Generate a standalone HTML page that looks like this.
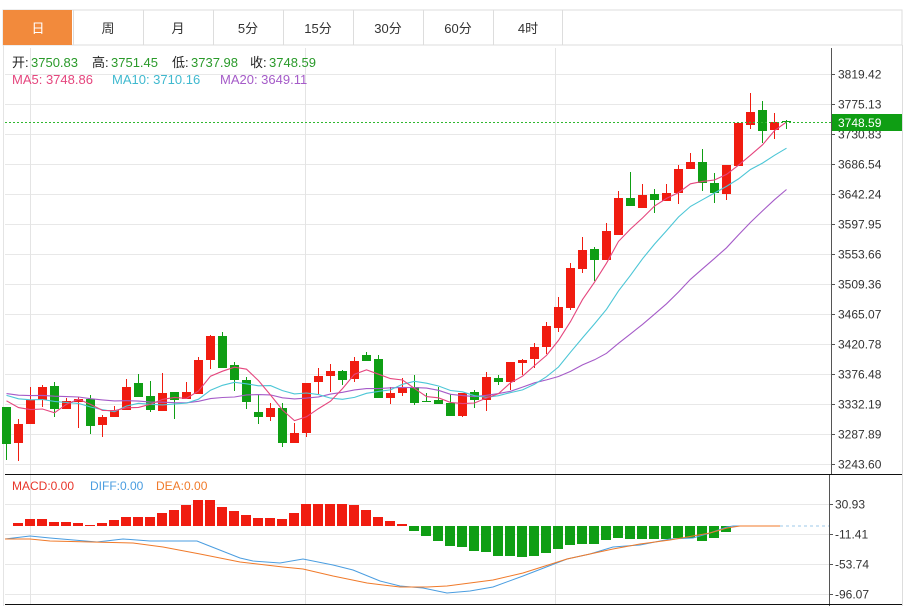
<!DOCTYPE html>
<html><head><meta charset="utf-8"><style>
body{margin:0;background:#fff;width:910px;height:606px;overflow:hidden;font-family:"Liberation Sans","Noto Sans CJK SC",sans-serif}
svg{position:absolute;left:0;top:0}
</style></head><body>
<svg id="s" width="910" height="606" xmlns="http://www.w3.org/2000/svg" font-family="Liberation Sans, Noto Sans CJK SC, sans-serif"></svg>
<script>
var s=document.getElementById('s'),h='';
// tabs
h+='<rect x="3" y="10" width="899" height="35" fill="#fff" stroke="#ddd"/>';
h+='<rect x="3" y="10" width="69" height="35" fill="#f28a3c"/>';
var tabs=['日','周','月','5分','15分','30分','60分','4时'];
for(var i=0;i<8;i++){var x0=3+i*70;if(i>0)h+='<line x1="'+(x0+0.5)+'" y1="10" x2="'+(x0+0.5)+'" y2="45" stroke="#ddd"/>';
h+='<text x="'+(x0+35)+'" y="33" text-anchor="middle" font-size="13" fill="'+(i==0?'#fff':'#333')+'">'+tabs[i]+'</text>';}
h+='<line x1="562.5" y1="10" x2="562.5" y2="45" stroke="#ddd"/>';
// frame
h+='<line x1="902.5" y1="45" x2="902.5" y2="606" stroke="#ddd"/>';
h+='<line x1="3.5" y1="45" x2="3.5" y2="606" stroke="#e4e4e4"/>';
// grid main
var lab=['3819.42','3775.13','3730.83','3686.54','3642.24','3597.95','3553.66','3509.36','3465.07','3420.78','3376.48','3332.19','3287.89','3243.60'];
for(var i=0;i<14;i++){var y=74+i*30;h+='<line x1="5" y1="'+(y+.5)+'" x2="831" y2="'+(y+.5)+'" stroke="#e8e8e8"/>';
h+='<line x1="831" y1="'+(y+.5)+'" x2="835" y2="'+(y+.5)+'" stroke="#555"/><text x="838" y="'+(y+4.5)+'" font-size="12" fill="#333">'+lab[i]+'</text>';}
var ml=['30.93','-11.41','-53.74','-96.07'];
for(var i=0;i<4;i++){var y=[504,534,564,594][i];h+='<line x1="5" y1="'+(y+.5)+'" x2="829" y2="'+(y+.5)+'" stroke="#e8e8e8"/>';
h+='<line x1="829" y1="'+(y+.5)+'" x2="833" y2="'+(y+.5)+'" stroke="#555"/><text x="835" y="'+(y+4.5)+'" font-size="12" fill="#333">'+ml[i].replace('-','-')+'</text>';}
[30,305,555].forEach(function(x){h+='<line x1="'+(x+.5)+'" y1="48" x2="'+(x+.5)+'" y2="604" stroke="#e4e4e4"/>';});
h+='<line x1="831.5" y1="48" x2="831.5" y2="474" stroke="#555"/><line x1="829.5" y1="474" x2="829.5" y2="606" stroke="#555"/>';
h+='<line x1="5" y1="474.5" x2="902" y2="474.5" stroke="#111"/><line x1="5" y1="604.5" x2="902" y2="604.5" stroke="#111"/>';
// candles [bodyTop,bodyBot,high,low,up]
var C=[[407,444,407,460,0],[424,443,419,461,1],[400,424,387,424,1],[387,400,385,407,1],[386,409,382,417,0],[401,409,398,409,1],[399,402,397,428,1],[399,426,395,434,0],[417,425,415,437,1],[410,417,406,417,1],[387,410,379,410,1],[383,397,374,397,0],[396,410,381,412,0],[393,411,373,411,1],[392,400,392,419,0],[392,399,382,399,1],[360,394,357,394,1],[336,360,335,369,1],[336,368,332,368,0],[365,380,362,391,0],[380,402,377,409,0],[412,417,394,424,0],[408,417,403,421,1],[408,443,403,447,0],[433,443,423,443,1],[383,433,383,437,1],[376,382,368,394,1],[371,376,364,392,1],[371,380,370,385,0],[361,379,357,382,1],[355,361,352,361,0],[359,398,355,398,0],[393,398,387,404,1],[387,393,378,396,1],[387,403,375,405,0],[401,402,393,402,0],[400,404,387,404,0],[403,416,394,416,0],[393,416,393,417,1],[392,400,390,408,0],[377,400,372,411,1],[378,382,375,385,0],[362,382,362,390,1],[360,363,359,375,1],[347,359,343,368,1],[326,347,322,354,1],[307,328,297,332,1],[268,308,263,310,1],[250,269,237,273,1],[249,260,247,281,0],[231,260,223,260,1],[198,235,191,235,1],[198,206,172,206,0],[195,208,184,208,1],[194,200,189,213,0],[193,201,184,201,1],[169,193,165,204,1],[162,169,153,169,1],[162,183,149,191,0],[183,193,173,203,0],[165,194,165,200,1],[123,166,123,166,1],[112,125,93,129,1],[110,131,101,143,0],[122,130,113,139,1],[121,122,120,129,0]];
var R='#f01c10',G='#0f9e14';
var cl=[];for(var i=0;i<20;i++)cl.push(i<10?392:390);
C.forEach(function(c,i){var x=6+12*i,col=c[4]?R:G;
h+='<line x1="'+(x+.5)+'" y1="'+c[2]+'" x2="'+(x+.5)+'" y2="'+c[3]+'" stroke="'+col+'"/>';
h+='<rect x="'+(x-4)+'" y="'+c[0]+'" width="9" height="'+Math.max(1,c[1]-c[0])+'" fill="'+col+'"/>';
cl.push(c[4]?c[0]:c[1]);});
function ma(n,col){var p=[];for(var i=0;i<C.length;i++){var k=i+20,sm=0;for(var j=0;j<n;j++)sm+=cl[k-j];p.push((6.5+12*i)+','+(sm/n).toFixed(1));}
h+='<polyline points="'+p.join(' ')+'" fill="none" stroke="'+col+'" stroke-width="1.1"/>';}
ma(20,'#a55bc8');ma(10,'#4cc6d6');ma(5,'#e5467e');
h+='<line x1="5" y1="122.5" x2="831" y2="122.5" stroke="#2fb82f" stroke-dasharray="2,2"/>';
h+='<rect x="832" y="114" width="70" height="17" fill="#0f9e14"/><text x="838" y="127" font-size="12" fill="#fff">3748.59</text>';
// MACD bars
var B=[526,523,519,519,522,522,523,525,523,520,517,517,517,513,510,505,500,500,507,511,515,518,518,519,513,504,504,504,504,505,510,517,521,524,531,536,541,546,547,551,552,556,556,557,556,553,549,545,544,544,540,538,539,539,539,539,538,538,541,538,532];
B.forEach(function(b,i){var x=6+12*i;if(b<526)h+='<rect x="'+(x-5)+'" y="'+b+'" width="10" height="'+(526-b)+'" fill="'+R+'"/>';else if(b>526)h+='<rect x="'+(x-5)+'" y="526" width="10" height="'+(b-526)+'" fill="'+G+'"/>';});
h+='<line x1="780" y1="526" x2="829" y2="526" stroke="#9cc8e8" stroke-dasharray="3,3"/>';
var dif='5,539 30,536 50,538 97,542 123,539 150,541 197,541 207,545 240,558 253,561 280,563 303,559 333,565 353,570 380,581 400,586 423,588 447,593 470,591 493,587 523,576 567,559 590,554 613,547 640,545 670,539 693,538 710,533 727,527 733,526 780,526';
var dea='5,539 30,539 50,541 133,543 163,547 200,554 240,562 283,567 303,569 333,576 367,583 400,587 427,587 447,586 493,580 523,573 567,559 613,549 640,544 670,540 710,533 727,528 740,526 780,526';
h+='<polyline points="'+dif+'" fill="none" stroke="#4a9de0" stroke-width="1"/><polyline points="'+dea+'" fill="none" stroke="#f07a2a" stroke-width="1"/>';
// legends
function t(x,y,str,col){h+='<text x="'+x+'" y="'+y+'" font-size="13" fill="'+col+'">'+str+'</text>';}
var g='#2a9a2a';
t(12,67,'开:','#222');t(31,67,'3750.83',g);t(92,67,'高:','#222');t(111,67,'3751.45',g);t(172,67,'低:','#222');t(191,67,'3737.98',g);t(250,67,'收:','#222');t(269,67,'3748.59',g);
t(12,84,'MA5: 3748.86','#e5467e');t(112,84,'MA10: 3710.16','#3fb9cf');t(220,84,'MA20: 3649.11','#a55bc8');
h+='<text x="12" y="490" font-size="12" fill="#e8352a">MACD:0.00</text><text x="90" y="490" font-size="12" fill="#4a9de0">DIFF:0.00</text><text x="156" y="490" font-size="12" fill="#f07a2a">DEA:0.00</text>';
s.innerHTML=h;
</script>
</body></html>
